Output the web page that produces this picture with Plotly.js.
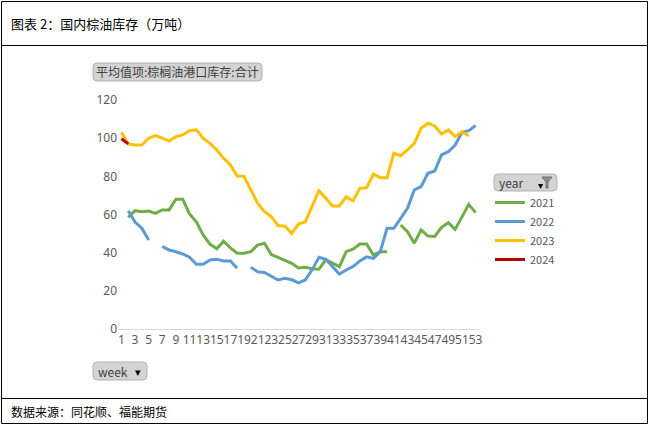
<!DOCTYPE html>
<html>
<head>
<meta charset="utf-8">
<script src="https://cdn.plot.ly/plotly-3.0.1.min.js"></script>
<style>
html,body{margin:0;padding:0;background:#fff;}
#chart{width:649px;height:425px;}
</style>
</head>
<body>
<div id="chart"></div>
<script>
// ---- data ----
const weeks = [1,2,3,4,5,6,7,8,9,10,11,12,13,14,15,16,17,18,19,20,21,22,23,24,25,26,27,28,29,30,31,32,33,34,35,36,37,38,39,40,41,42,43,44,45,46,47,48,49,50,51,52,53];
const tickWeeks = [1,3,5,7,9,11,13,15,17,19,21,23,25,27,29,31,33,35,37,39,41,43,45,47,49,51,53];
const yTicks = [0,20,40,60,80,100,120];
const seriesNames = ["2021","2022","2023","2024"];

const y2021 = [null,58.5,62,61.5,61.8,60.6,62.4,62.4,68,68,60.3,56.2,49.3,44.5,42,46,42.5,39.7,39.7,40.5,
  44,45,39,37.5,35.8,34.4,32,32.3,31.6,31.3,36.3,34.5,32.7,40.5,41.8,44.5,44.5,38.8,40.5,40.5,
  null,54.5,51,45,51.9,48.7,48.5,53.3,55.7,52.2,58.9,65.3,61];
const y2022 = [null,62,56,52.8,46.6,null,43.3,41.4,40.5,39.3,37.6,33.9,33.9,36.2,36.5,35.6,35.6,31.8,null,32.3,
  30,29.6,27.8,25.7,26.6,25.8,24.2,25.7,31,37.6,36.5,32.6,28.8,30.9,32.7,35.6,37.8,37,40.5,52.8,
  52.8,58,63.2,72.9,74.6,81.6,82.8,91.2,92.9,96.4,103.1,103.9,106.6];
const y2023 = [103.1,97,96.4,96.4,100,101.3,100,98.5,100.8,101.7,103.9,104.4,100,97.3,93.8,89.5,86,80.2,80,72.9,
  65.9,61.5,58.9,54.1,54,50.1,55,56.2,64.1,72.5,68.5,64.5,64.5,69.3,67.1,73.7,74,81.2,79.3,79.3,
  92.1,90.8,93.8,97.3,105.2,107.8,106.4,102.2,104.3,100.8,103.4,101.3,null];
const y2024 = [99.7,97];

const colors = ["#70AD47","#5B9BD5","#FFC000","#C00000"];

// ---- layout geometry (pixels) ----
const W = 649, H = 425, L = 118, R = 170, T = 100, B = 96;
const PW = W - L - R, PH = H - T - B;
const px = x => (x - L) / PW;
const py = y => (H - B - y) / PH;

function roundRect(x0, y0, x1, y1, r) {
  const p = (x, y) => px(x) + ',' + py(y);
  return 'M' + p(x0 + r, y0) + ' L' + p(x1 - r, y0) + ' Q' + p(x1, y0) + ' ' + p(x1, y0 + r) +
    ' L' + p(x1, y1 - r) + ' Q' + p(x1, y1) + ' ' + p(x1 - r, y1) +
    ' L' + p(x0 + r, y1) + ' Q' + p(x0, y1) + ' ' + p(x0, y1 - r) +
    ' L' + p(x0, y0 + r) + ' Q' + p(x0, y0) + ' ' + p(x0 + r, y0) + ' Z';
}
function line(x0, y0, x1, y1, color, w) {
  return {type:'line', xref:'paper', yref:'paper', x0:px(x0), y0:py(y0), x1:px(x1), y1:py(y1),
    line:{color:color, width:w}};
}

const font = '"Noto Sans CJK SC", "Noto Sans", sans-serif';
const numFont = '"Liberation Sans Narrow", "Noto Sans", sans-serif';
const allY = [y2021, y2022, y2023, y2024];
const traces = seriesNames.map((n, i) => ({
  x: weeks.slice(0, allY[i].length),
  y: allY[i],
  name: n,
  type: 'scatter',
  mode: 'lines',
  connectgaps: false,
  line: {color: colors[i], width: 3}
}));

const shapes = [
  {type:'rect', xref:'paper', yref:'paper', x0:px(1.5), y0:py(1.5), x1:px(647.5), y1:py(423.5),
    line:{color:'#000', width:1}, fillcolor:'rgba(0,0,0,0)'},
  line(1.5, 45.5, 647.5, 45.5, '#000', 1),
  line(1.5, 398.5, 647.5, 398.5, '#000', 1),
  {type:'path', xref:'paper', yref:'paper', path: roundRect(93, 63, 262, 81, 4),
    fillcolor:'#d3d3d3', line:{color:'#b3b3b3', width:1}},
  {type:'path', xref:'paper', yref:'paper', path: roundRect(494, 174, 557, 191, 4),
    fillcolor:'#d3d3d3', line:{color:'#b3b3b3', width:1}},
  {type:'path', xref:'paper', yref:'paper', path: roundRect(93, 362, 147, 380, 4),
    fillcolor:'#d3d3d3', line:{color:'#b3b3b3', width:1}},
  {type:'path', xref:'paper', yref:'paper',
    path: 'M' + px(542) + ',' + py(177) + ' L' + px(552) + ',' + py(177) + ' L' + px(548) + ',' + py(182) +
      ' L' + px(548) + ',' + py(188) + ' L' + px(546) + ',' + py(188) + ' L' + px(546) + ',' + py(182) + ' Z',
    fillcolor:'#8c8c8c', line:{color:'#6f6f6f', width:1}}
];

const annotations = [
  {text:'图表 2：国内棕油库存（万吨）', xref:'paper', yref:'paper', x:px(9), y:py(24),
    xanchor:'left', yanchor:'middle', showarrow:false, font:{family:font, size:13, color:'#000'}},
  {text:'数据来源：同花顺、福能期货', xref:'paper', yref:'paper', x:px(9), y:py(411),
    xanchor:'left', yanchor:'middle', showarrow:false, font:{family:font, size:12, color:'#000'}},
  {text:'平均值项:棕榈油港口库存:合计', xref:'paper', yref:'paper', x:px(177.5), y:py(72),
    xanchor:'center', yanchor:'middle', showarrow:false, font:{family:font, size:12, color:'#404040'}},
  {text:'year', xref:'paper', yref:'paper', x:px(497), y:py(182.5),
    xanchor:'left', yanchor:'middle', showarrow:false, font:{family:font, size:12, color:'#404040'}},
  {text:'▾', xref:'paper', yref:'paper', x:px(540), y:py(184),
    xanchor:'center', yanchor:'middle', showarrow:false, font:{family:font, size:10, color:'#000'}},
  {text:'week', xref:'paper', yref:'paper', x:px(96), y:py(371),
    xanchor:'left', yanchor:'middle', showarrow:false, font:{family:font, size:12, color:'#404040'}},
  {text:'▾', xref:'paper', yref:'paper', x:px(138), y:py(371),
    xanchor:'center', yanchor:'middle', showarrow:false, font:{family:font, size:11, color:'#000'}}
];

const layout = {
  width: W, height: H,
  margin: {l: L, r: R, t: T, b: B},
  paper_bgcolor: '#fff', plot_bgcolor: '#fff',
  showlegend: true,
  legend: {x: px(490), y: py(188), xanchor: 'left', yanchor: 'top',
    font: {family: font, size: 11, color: '#595959'}, tracegroupgap: 0,
    bgcolor: 'rgba(0,0,0,0)'},
  xaxis: {range: [0.5, 53.5], tickvals: tickWeeks, ticktext: tickWeeks.map(String),
    tickangle: 0, autotickangles: [0],
    showgrid: false, zeroline: false, showline: true, linecolor: '#d9d9d9', linewidth: 1,
    ticks: '', tickfont: {family: numFont, size: 12, color: '#595959'}, fixedrange: true},
  yaxis: {range: [0, 120], tickvals: yTicks, ticktext: yTicks.map(String),
    showgrid: false, zeroline: false, showline: false, ticks: '',
    tickfont: {family: numFont, size: 12, color: '#595959'}, fixedrange: true},
  shapes: shapes,
  annotations: annotations
};

Plotly.newPlot('chart', traces, layout, {displayModeBar: false, staticPlot: true});
</script>
</body>
</html>
